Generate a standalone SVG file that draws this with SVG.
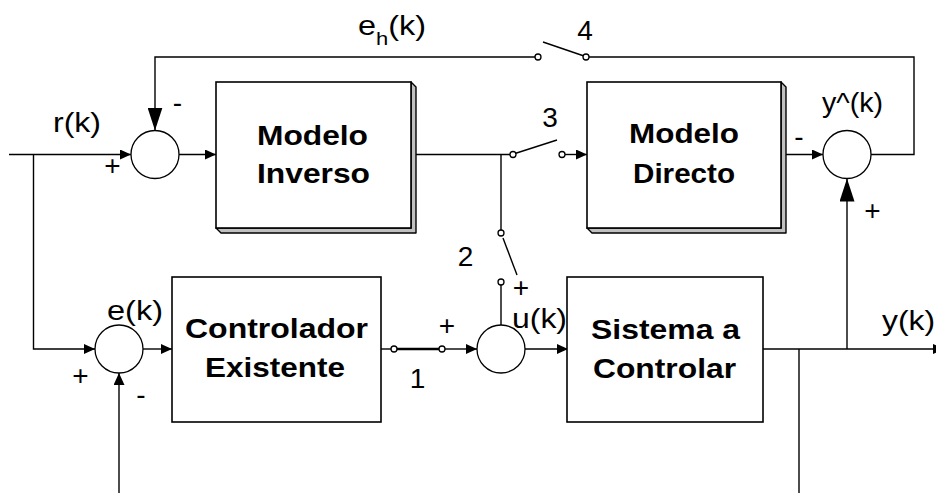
<svg xmlns="http://www.w3.org/2000/svg" width="936" height="493" viewBox="0 0 936 493">
<defs>
<marker id="arr" markerUnits="userSpaceOnUse" markerWidth="12" markerHeight="10" refX="11" refY="5" orient="auto"><path d="M0,0 L11,5 L0,10 z" fill="#000"/></marker>
<marker id="arrS" markerUnits="userSpaceOnUse" markerWidth="12" markerHeight="11" refX="12" refY="5.5" orient="auto"><path d="M0,0 L12,5.5 L0,11 z" fill="#000"/></marker>
<marker id="arrB" markerUnits="userSpaceOnUse" markerWidth="24" markerHeight="15" refX="23" refY="7.5" orient="auto"><path d="M0,0 L23,7.5 L0,15 z" fill="#000"/></marker>
</defs>
<style>
.ln{fill:none;stroke:#000;stroke-width:1.4}
.box{fill:#fff;stroke:#000;stroke-width:1.6}
.sh{fill:#c0c0c0;stroke:#000;stroke-width:1.4;stroke-linejoin:round}
.sum{fill:#fff;stroke:#000;stroke-width:1.3}
.ct{fill:#fff;stroke:#000;stroke-width:1.3}
.bt{font-family:"Liberation Sans",Arial,sans-serif;font-weight:bold;font-size:28px;fill:#000}
.lt{font-family:"Liberation Sans",Arial,sans-serif;font-size:28px;fill:#000}
.sg{font-family:"Liberation Sans",Arial,sans-serif;font-size:28px;fill:#000;text-anchor:middle}
</style>

<g id="connectors">
<path class="ln" d="M9,154.5 H131" marker-end="url(#arr)"/>
<path class="ln" d="M33.5,154.5 V349 H95" marker-end="url(#arr)"/>
<path class="ln" d="M179,154.5 H216" marker-end="url(#arr)"/>
<path class="ln" d="M535,57 H155 V130.5" marker-end="url(#arrB)"/>
<path class="ln" d="M411,154.5 H510"/>
<path class="ln" d="M501,154.5 V230"/>
<path class="ln" d="M565,154.5 H587" marker-end="url(#arr)"/>
<path class="ln" d="M781,154.5 H823" marker-end="url(#arr)"/>
<path class="ln" d="M871,154.5 H914 V57 H589"/>
<path class="ln" d="M847,349 V178.5" marker-end="url(#arrB)"/>
<path class="ln" d="M143,349 H172" marker-end="url(#arr)"/>
<path class="ln" d="M381,349 H391"/>
<path class="ln" d="M445,349 H477" marker-end="url(#arr)"/>
<path class="ln" d="M525,349 H568" marker-end="url(#arr)"/>
<path class="ln" d="M763,349 H944" marker-end="url(#arr)"/>
<path class="ln" d="M799,349 V493"/>
<path class="ln" d="M119,493 V373" marker-end="url(#arrS)"/>
<path class="ln" d="M501,285 V325"/>
</g>

<g id="switch1">
<line x1="394" y1="349" x2="442" y2="349" stroke="#000" stroke-width="2.6"/>
<circle class="ct" cx="394" cy="349" r="3"/>
<circle class="ct" cx="442" cy="349" r="3"/>
<text class="sg" x="417.5" y="388">1</text>
</g>
<g id="switch2">
<line class="ln" x1="503" y1="238" x2="517" y2="275"/>
<circle class="ct" cx="501" cy="233" r="3"/>
<circle class="ct" cx="501" cy="282" r="3"/>
<text class="sg" x="465.5" y="266">2</text>
</g>
<g id="switch3">
<line class="ln" x1="515" y1="153.5" x2="557" y2="140"/>
<circle class="ct" cx="513" cy="154.5" r="3"/>
<circle class="ct" cx="562" cy="154.5" r="3"/>
<text class="sg" x="550" y="127">3</text>
</g>
<g id="switch4">
<line class="ln" x1="543" y1="42" x2="584" y2="56"/>
<circle class="ct" cx="538" cy="57" r="3"/>
<circle class="ct" cx="586" cy="57" r="3"/>
<text class="sg" x="585" y="40">4</text>
</g>

<g id="sum1">
<circle class="sum" cx="155" cy="154.5" r="24"/>
<text class="sg" x="112.5" y="175">+</text>
<text class="sg" x="177.5" y="112">-</text>
<text class="lt" x="53" y="132" textLength="48" lengthAdjust="spacingAndGlyphs">r(k)</text>
</g>

<g id="modelo-inverso">
<polygon class="sh" points="411,82 416,87 416,233 221,233 216,228 411,228"/>
<rect class="box" x="216" y="82" width="195" height="146"/>
<text class="bt" x="257" y="145" textLength="111" lengthAdjust="spacingAndGlyphs">Modelo</text>
<text class="bt" x="257" y="183" textLength="113" lengthAdjust="spacingAndGlyphs">Inverso</text>
</g>

<g id="eh-label">
<text class="lt" x="358" y="35" textLength="68" lengthAdjust="spacingAndGlyphs">e<tspan font-size="19" dy="10">h</tspan><tspan dy="-10">(k)</tspan></text>
</g>

<g id="modelo-directo">
<polygon class="sh" points="781,82 786,87 786,233 592,233 587,228 781,228"/>
<rect class="box" x="587" y="82" width="194" height="146"/>
<text class="bt" x="629" y="143" textLength="110" lengthAdjust="spacingAndGlyphs">Modelo</text>
<text class="bt" x="633" y="183" textLength="102" lengthAdjust="spacingAndGlyphs">Directo</text>
</g>

<g id="sum2">
<circle class="sum" cx="847" cy="154.5" r="24"/>
<text class="sg" x="799" y="146">-</text>
<text class="sg" x="872.5" y="219.5">+</text>
<text class="lt" x="822" y="112" textLength="61" lengthAdjust="spacingAndGlyphs">y^(k)</text>
</g>

<g id="sum3">
<circle class="sum" cx="119" cy="349" r="24"/>
<text class="lt" x="107" y="320" textLength="56" lengthAdjust="spacingAndGlyphs">e(k)</text>
<text class="sg" x="80.5" y="384.5">+</text>
<text class="sg" x="141" y="404">-</text>
</g>

<g id="controlador">
<rect class="box" x="172" y="277" width="209" height="145"/>
<text class="bt" x="185" y="338" textLength="183" lengthAdjust="spacingAndGlyphs">Controlador</text>
<text class="bt" x="205" y="377" textLength="140" lengthAdjust="spacingAndGlyphs">Existente</text>
</g>

<g id="sum4">
<circle class="sum" cx="501" cy="349" r="24"/>
<text class="sg" x="447" y="334.5">+</text>
<text class="sg" x="521" y="296.5">+</text>
<text class="lt" x="512" y="328" textLength="55" lengthAdjust="spacingAndGlyphs">u(k)</text>
</g>

<g id="sistema">
<rect class="box" x="567" y="277" width="196" height="145"/>
<text class="bt" x="591" y="339" textLength="149" lengthAdjust="spacingAndGlyphs">Sistema a</text>
<text class="bt" x="593" y="378" textLength="143" lengthAdjust="spacingAndGlyphs">Controlar</text>
</g>

<g id="output-label">
<text class="lt" x="882" y="330" textLength="53" lengthAdjust="spacingAndGlyphs">y(k)</text>
</g>
</svg>
